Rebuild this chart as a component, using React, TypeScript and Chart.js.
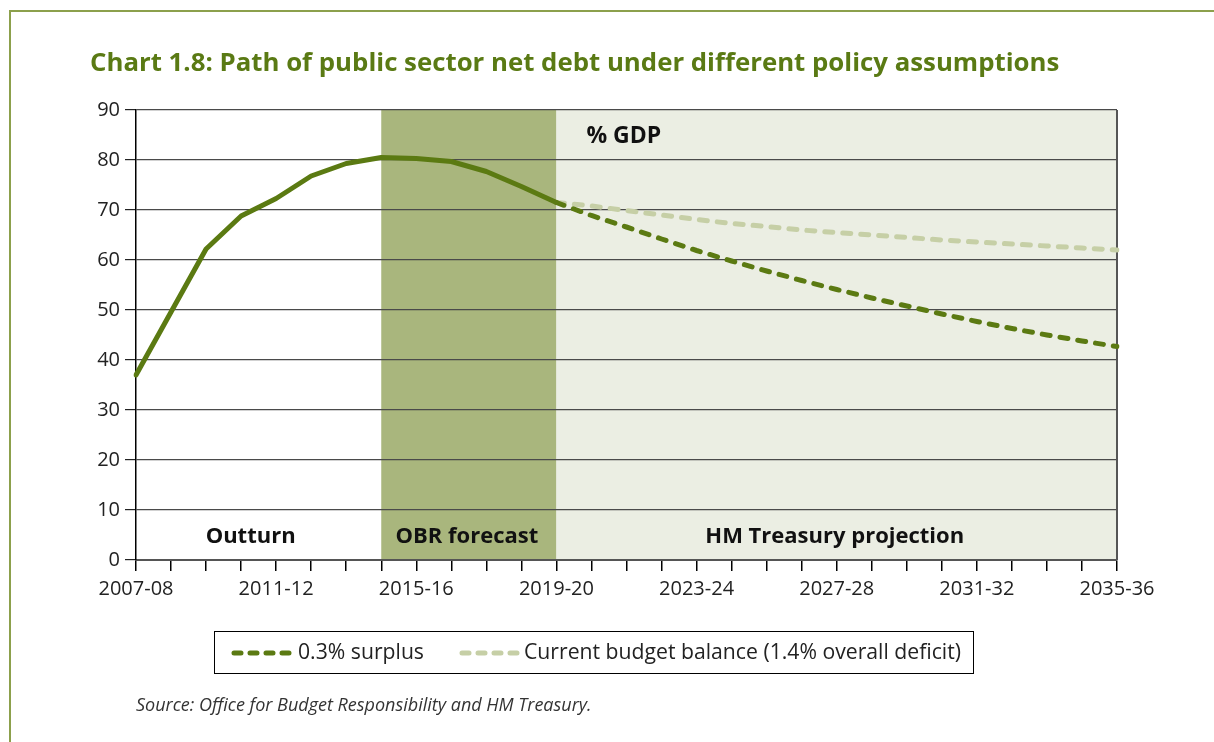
import React, { useEffect, useRef } from 'react';
import { Chart, registerables } from 'chart.js';

Chart.register(...registerables);

const yearLabels = [
  '2007-08', '2008-09', '2009-10', '2010-11', '2011-12', '2012-13', '2013-14', '2014-15',
  '2015-16', '2016-17', '2017-18', '2018-19', '2019-20', '2020-21', '2021-22', '2022-23',
  '2023-24', '2024-25', '2025-26', '2026-27', '2027-28', '2028-29', '2029-30', '2030-31',
  '2031-32', '2032-33', '2033-34', '2034-35', '2035-36',
];

const outturnAndForecast = [
  37.0, 49.6, 62.2, 68.8, 72.3, 76.8, 79.3, 80.5, 80.3, 79.7, 77.7, 74.7, 71.5,
  null, null, null, null, null, null, null, null, null, null, null, null, null, null, null, null,
];

const surplusPath = [
  null, null, null, null, null, null, null, null, null, null, null, null,
  71.5, 68.9, 66.6, 64.2, 61.9, 59.8, 57.8, 55.9, 54.1, 52.4, 50.8, 49.2, 47.7, 46.3, 45.0, 43.8, 42.7,
];

const currentBalancePath = [
  null, null, null, null, null, null, null, null, null, null, null, null,
  71.5, 70.8, 69.9, 69.0, 68.1, 67.3, 66.7, 66.0, 65.5, 65.0, 64.5, 64.0, 63.6, 63.2, 62.8, 62.4, 62.0,
];

const seriesNames = ['0.3% surplus', 'Current budget balance (1.4% overall deficit)'];

const periodLabels = ['Outturn', 'OBR forecast', 'HM Treasury projection'];
const periodStarts = [0, 7, 12];
const periodEnds = [7, 12, 28];

const titleText = 'Chart 1.8: Path of public sector net debt under different policy assumptions';
const unitText = '% GDP';
const sourceText = 'Source: Office for Budget Responsibility and HM Treasury.';

const DARK = '#5b7a12';
const LIGHT = '#c6cfa6';
const OBR_FILL = '#a9b67d';
const HMT_FILL = '#ebeee3';
const FRAME = '#8ca04c';
const FONT = '"Open Sans", "Noto Sans", sans-serif';

const decorPlugin = {
  id: 'decor',
  beforeDraw(chart: any) {
    const { ctx, chartArea, scales } = chart;
    const x = scales.x;
    ctx.save();
    // page frame
    ctx.strokeStyle = FRAME;
    ctx.lineWidth = 2;
    ctx.beginPath();
    ctx.moveTo(9, 11);
    ctx.lineTo(1214, 11);
    ctx.moveTo(10, 11);
    ctx.lineTo(10, 742);
    ctx.stroke();

    // region fills
    const fills = ['#ffffff', OBR_FILL, HMT_FILL];
    for (let i = 0; i < periodLabels.length; i++) {
      const x0 = x.getPixelForValue(periodStarts[i]);
      const x1 = x.getPixelForValue(periodEnds[i]);
      ctx.fillStyle = fills[i];
      ctx.fillRect(x0, chartArea.top, x1 - x0, chartArea.bottom - chartArea.top);
    }

    // title
    ctx.fillStyle = '#5a7a14';
    ctx.font = `bold 25.8px ${FONT}`;
    ctx.textAlign = 'left';
    ctx.textBaseline = 'middle';
    ctx.fillText(titleText, 90, 64);
    ctx.restore();
  },
  beforeDatasetsDraw(chart: any) {
    const { ctx, chartArea, scales } = chart;
    const x = scales.x;
    ctx.save();
    ctx.fillStyle = '#111';
    ctx.font = `bold 22px ${FONT}`;
    ctx.textAlign = 'center';
    ctx.textBaseline = 'middle';
    for (let i = 0; i < periodLabels.length; i++) {
      const x0 = x.getPixelForValue(periodStarts[i]);
      const x1 = x.getPixelForValue(periodEnds[i]);
      const cx = i === 0 ? (x0 + x1) / 2 - 8 : (x0 + x1) / 2 - 2;
      ctx.fillText(periodLabels[i], cx, chartArea.bottom - 23);
    }
    ctx.textAlign = 'left';
    ctx.font = `bold 23px ${FONT}`;
    ctx.fillText(unitText, x.getPixelForValue(12) + 30, chartArea.top + 26);

    // right border of plot
    ctx.strokeStyle = '#555';
    ctx.lineWidth = 2;
    ctx.beginPath();
    ctx.moveTo(chartArea.right, chartArea.top);
    ctx.lineTo(chartArea.right, chartArea.bottom);
    ctx.stroke();
    ctx.restore();
  },
  afterDraw(chart: any) {
    const { ctx } = chart;
    ctx.save();
    // legend box
    ctx.strokeStyle = '#000';
    ctx.lineWidth = 1;
    ctx.strokeRect(214.5, 631.5, 759, 42);
    const items = [
      { ds: chart.data.datasets[1], x: 234, tx: 298 },
      { ds: chart.data.datasets[2], x: 462, tx: 524 },
    ];
    ctx.textBaseline = 'middle';
    ctx.textAlign = 'left';
    for (const it of items) {
      ctx.strokeStyle = it.ds.borderColor;
      ctx.lineWidth = 5;
      ctx.lineCap = 'round';
      ctx.setLineDash([7, 9]);
      ctx.beginPath();
      ctx.moveTo(it.x, 653);
      ctx.lineTo(it.x + 55, 653);
      ctx.stroke();
      ctx.setLineDash([]);
      ctx.fillStyle = '#222';
      ctx.font = `21.2px ${FONT}`;
      ctx.fillText(it.ds.label, it.tx, 653);
    }
    // source
    ctx.font = `italic 18px ${FONT}`;
    ctx.fillStyle = '#333';
    ctx.fillText(sourceText, 136, 706);
    ctx.restore();
  },
};

export default function App() {
  const canvasRef = useRef<HTMLCanvasElement | null>(null);

  useEffect(() => {
    const canvas = canvasRef.current;
    if (!canvas) return;
    const chart = new Chart(canvas, {
      type: 'line',
      data: {
        labels: yearLabels,
        datasets: [
          {
            label: 'Outturn and OBR forecast',
            data: outturnAndForecast,
            borderColor: DARK,
            borderWidth: 5,
            pointRadius: 0,
            tension: 0,
            borderJoinStyle: 'round',
            borderCapStyle: 'round',
          },
          {
            label: seriesNames[0],
            data: surplusPath,
            borderColor: DARK,
            borderWidth: 5,
            pointRadius: 0,
            tension: 0,
            borderDash: [8, 10],
            borderCapStyle: 'round',
          },
          {
            label: seriesNames[1],
            data: currentBalancePath,
            borderColor: LIGHT,
            borderWidth: 5,
            pointRadius: 0,
            tension: 0,
            borderDash: [8, 10],
            borderCapStyle: 'round',
          },
        ],
      },
      options: {
        responsive: false,
        animation: false,
        devicePixelRatio: 1,
        layout: { padding: { left: 20, top: 110, right: 97, bottom: 142 } },
        plugins: {
          legend: { display: false },
          title: { display: false },
          tooltip: { enabled: false },
        },
        scales: {
          x: {
            type: 'category',
            offset: false,
            afterFit: (scale: any) => {
              scale.height = 40;
            },
            grid: {
              drawOnChartArea: false,
              drawTicks: true,
              tickLength: 11,
              tickColor: '#000',
              lineWidth: 1.5,
            },
            border: { color: '#555', width: 2 },
            ticks: {
              autoSkip: false,
              maxRotation: 0,
              minRotation: 0,
              padding: 6,
              color: '#222',
              font: { family: FONT, size: 20 },
              callback: (_v: any, i: number) => (i % 4 === 0 ? yearLabels[i] : ''),
            },
          },
          y: {
            min: 0,
            max: 90,
            afterFit: (scale: any) => {
              scale.width = 116;
            },
            grid: {
              color: '#4a4a4a',
              lineWidth: 1.2,
              tickLength: 11,
              tickColor: '#222',
            },
            border: { color: '#000', width: 1.5 },
            ticks: {
              stepSize: 10,
              padding: 5,
              color: '#222',
              font: { family: FONT, size: 20 },
            },
          },
        },
      },
      plugins: [decorPlugin],
    });
    return () => chart.destroy();
  }, []);

  return (
    <div style={{ position: 'fixed', left: 0, top: 0, width: 1214, height: 742, background: '#fff' }}>
      <canvas ref={canvasRef} width={1214} height={742} style={{ display: 'block' }} />
    </div>
  );
}
